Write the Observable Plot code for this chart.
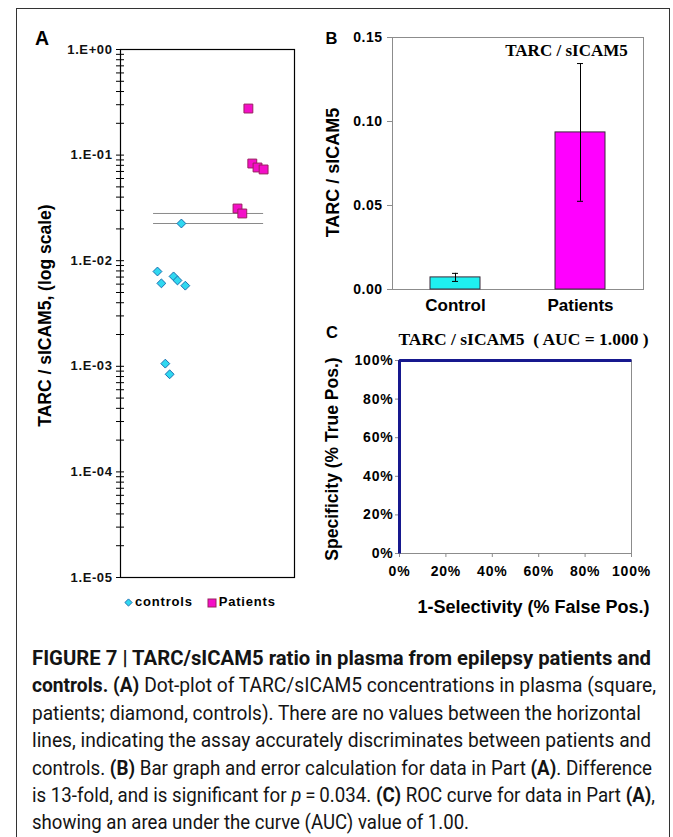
<!DOCTYPE html>
<html>
<head>
<meta charset="utf-8">
<script src="https://cdn.jsdelivr.net/npm/d3@7"></script>
<script src="https://cdn.jsdelivr.net/npm/@observablehq/plot@0.6"></script>
<style>
html, body { margin: 0; padding: 0; background: #fff; }
#fig { position: relative; width: 673px; height: 837px; overflow: hidden; background: #fff;
  font-family: "Liberation Sans", Arial, sans-serif; }
#border { position: absolute; left: 16px; top: 8px; width: 654px; height: 860px; border: 1px solid #333; box-sizing: border-box; }
.panel { position: absolute; }
.panel svg { background: transparent !important; }
#panelA g[aria-label="y-axis tick label"] { letter-spacing: 0.6px; }
#panelB g[aria-label="y-axis tick label"] { letter-spacing: 0.5px; }
#panelC g[aria-label="y-axis tick label"], #panelC g[aria-label="x-axis tick label"] { letter-spacing: 0.8px; }
.letter { position: absolute; font-weight: bold; line-height: 1; color: #000; }
#legendA { position: absolute; left: 124px; top: 593px; font-size: 13px; font-weight: bold; letter-spacing: 0.8px;
  white-space: nowrap; line-height: 18px; color: #000; }
#legendA svg { vertical-align: middle; margin-right: 2px; }
#caption { position: absolute; left: 32px; top: 645px; font-family: Roboto, "Liberation Sans", sans-serif;
  font-size: 20.5px; line-height: 27.4px; color: #141414; white-space: nowrap; }
#caption div { transform-origin: 0 0; width: max-content; }
#caption b { font-weight: 700; }
</style>
</head>
<body>
<div id="fig">
  <div id="border"></div>
  <div id="panelA" class="panel" style="left:20px;top:30px;"></div>
  <div id="panelB" class="panel" style="left:300px;top:20px;"></div>
  <div id="panelC" class="panel" style="left:300px;top:320px;"></div>
  <div class="letter" style="left:35px;top:28.5px;font-size:19.5px;">A</div>
  <div class="letter" style="left:325.5px;top:30px;font-size:16.5px;">B</div>
  <div class="letter" style="left:326px;top:324px;font-size:16.5px;">C</div>
  <div id="legendA"></div>
  <div id="caption">
    <div data-w="619"><b>FIGURE 7 | TARC/sICAM5 ratio in plasma from epilepsy patients and</b></div>
    <div data-w="624"><b>controls. (A)</b> Dot-plot of TARC/sICAM5 concentrations in plasma (square,</div>
    <div data-w="609">patients; diamond, controls). There are no values between the horizontal</div>
    <div data-w="619">lines, indicating the assay accurately discriminates between patients and</div>
    <div data-w="620">controls. <b>(B)</b> Bar graph and error calculation for data in Part <b>(A)</b>. Difference</div>
    <div data-w="623">is 13-fold, and is significant for <i>p</i>&#8201;=&#8201;0.034. <b>(C)</b> ROC curve for data in Part <b>(A)</b>,</div>
    <div data-w="437">showing an area under the curve (AUC) value of 1.00.</div>
  </div>
</div>
<script>
// ---------- DATA ----------
// Panel A: dot plot (log scale)
const controlsX = [0.85, 0.94, 1.03, 1.13, 1.22, 1.31, 1.40, 1.49];
const controlsY = [0.0079, 0.0061, 0.00106, 0.00084, 0.0071, 0.0065, 0.0225, 0.0058];
const patientsX = [2.69, 2.80, 2.94, 3.03, 3.15, 3.29];
const patientsY = [0.0312, 0.0280, 0.276, 0.0832, 0.0763, 0.0731];
const cutoffValues = [0.0280, 0.0225];
const cutoffSpan = [0.76, 3.29];
const logTicks = [1e-5, 1e-4, 1e-3, 1e-2, 1e-1, 1];
const legendLabels = ["controls", "Patients"];
const yLabelA = "TARC / sICAM5, (log scale)";

// Panel B: bar graph
const groups = ["Control", "Patients"];
const means = [0.0072, 0.0935];
const errors = [0.0024, 0.0410];
const barTicks = [0, 0.05, 0.10, 0.15];
const titleB = "TARC / sICAM5";
const yLabelB = "TARC / sICAM5";

// Panel C: ROC curve
const rocFalsePos = [0, 0, 1];
const rocTruePos = [0, 1, 1];
const pctTicks = [0, 0.2, 0.4, 0.6, 0.8, 1];
const titleC = "TARC / sICAM5  ( AUC = 1.000 )";
const xLabelC = "1-Selectivity (% False Pos.)";
const yLabelC = "Specificity (% True Pos.)";

// ---------- STYLE ----------
const SANS = "Liberation Sans, Arial, Helvetica, sans-serif";
const SERIF = "Liberation Serif, Times New Roman, serif";
const CYAN = "#2fd8f0", CYAN_STROKE = "#1a6fb0";
const MAG = "#f40fc8", MAG_STROKE = "#9a2060";

const sciFormat = d => {
  const e = Math.round(Math.log10(d));
  return "1.E" + (e < 0 ? "-" : "+") + String(Math.abs(e)).padStart(2, "0");
};

// ---------- PANEL A ----------
const plotA = Plot.plot({
  width: 290, height: 560,
  marginLeft: 100, marginRight: 16, marginTop: 19, marginBottom: 13,
  style: {fontFamily: SANS, background: "transparent", color: "#000"},
  x: {domain: [0, 4], axis: null},
  y: {type: "log", domain: [1e-5, 1]},
  marks: [
    Plot.frame({stroke: "#000", strokeWidth: 1.2}),
    Plot.axisY({ticks: 50, tickSize: 8, dx: 4, tickFormat: () => "", stroke: "#000", label: null}),
    Plot.axisY({ticks: logTicks, tickSize: 0, tickPadding: 8, tickFormat: sciFormat, fontSize: 13,
      fontWeight: "bold", fill: "#111", label: null}),
    Plot.ruleY(cutoffValues, {y: d => d, x1: cutoffSpan[0], x2: cutoffSpan[1], stroke: "#8a8a8a", strokeWidth: 1}),
    Plot.dot(controlsY, {x: controlsX, y: controlsY, symbol: "diamond2", r: 4, fill: CYAN, stroke: CYAN_STROKE, strokeWidth: 1}),
    Plot.dot(patientsY, {x: patientsX, y: patientsY, symbol: "square", r: 5, fill: MAG, stroke: MAG_STROKE, strokeWidth: 1}),
    Plot.text([yLabelA], {text: d => d, frameAnchor: "left", dx: -75, dy: 2, rotate: -90,
      textAnchor: "middle", lineAnchor: "middle", fontSize: 17.5, fontWeight: "bold", fill: "#000"})
  ]
});
document.getElementById("panelA").appendChild(plotA);

// legend A
document.getElementById("legendA").innerHTML =
  `<svg width="9" height="9" viewBox="-4.5 -4.5 9 9"><path d="M0,-3.6L3.6,0L0,3.6L-3.6,0Z" fill="${CYAN}" stroke="${CYAN_STROKE}" stroke-width="1"/></svg>${legendLabels[0]}` +
  `<span style="display:inline-block;width:14px"></span>` +
  `<svg width="10" height="10" viewBox="-5 -5 10 10"><rect x="-4" y="-4" width="8" height="8" fill="${MAG}" stroke="${MAG_STROKE}" stroke-width="1"/></svg>${legendLabels[1]}`;

// ---------- PANEL B ----------
const lower = means.map((m, i) => m - errors[i]);
const upper = means.map((m, i) => m + errors[i]);
const plotB = Plot.plot({
  width: 365, height: 300,
  marginLeft: 92, marginRight: 22, marginTop: 17, marginBottom: 31,
  style: {fontFamily: SANS, background: "transparent", color: "#000"},
  x: {domain: groups, paddingInner: 0.6, paddingOuter: 0.3},
  y: {domain: [0, 0.15]},
  color: {domain: groups, range: ["#1ff0f0", "#ff00ff"]},
  marks: [
    Plot.frame({stroke: "#8c8c8c"}),
    Plot.barY(groups, {x: groups, y: means, fill: groups, stroke: "#3a2a3a", strokeWidth: 1}),
    Plot.ruleX(groups, {x: groups, y1: lower, y2: upper, stroke: "#000", strokeWidth: 1}),
    Plot.tickY(groups, {x: groups, y: upper, stroke: "#000", insetLeft: 22, insetRight: 22}),
    Plot.tickY(groups, {x: groups, y: lower, stroke: "#000", insetLeft: 22, insetRight: 22}),
    Plot.axisY({ticks: barTicks, tickFormat: d3.format(".2f"), tickSize: 5, tickPadding: 5,
      stroke: "#8c8c8c", fill: "#000", fontSize: 14, fontWeight: "bold", label: null}),
    Plot.axisX({tickSize: 0, tickPadding: 9, fontSize: 17, fontWeight: "bold", fill: "#000", label: null}),
    Plot.text([yLabelB], {text: d => d, frameAnchor: "left", dx: -59, dy: 9, rotate: -90,
      textAnchor: "middle", lineAnchor: "middle", fontSize: 18, fontWeight: "bold", fill: "#000"}),
    Plot.text([titleB], {text: d => d, frameAnchor: "top-right", dx: -77, dy: 13.5,
      textAnchor: "middle", lineAnchor: "middle",
      fontFamily: SERIF, fontWeight: "bold", fontSize: 17, fill: "#000"})
  ]
});
document.getElementById("panelB").appendChild(plotB);

// ---------- PANEL C ----------
const plotC = Plot.plot({
  width: 365, height: 300,
  marginLeft: 99, marginRight: 34, marginTop: 40, marginBottom: 67,
  style: {fontFamily: SANS, background: "transparent", color: "#000"},
  x: {domain: [0, 1]},
  y: {domain: [0, 1]},
  marks: [
    Plot.frame({stroke: "#8c8c8c"}),
    Plot.axisY({ticks: pctTicks, tickFormat: d3.format(".0%"), tickSize: 4, tickPadding: 2,
      stroke: "#8c8c8c", fill: "#000", fontSize: 14, fontWeight: "bold", label: null}),
    Plot.axisX({ticks: pctTicks, tickFormat: d3.format(".0%"), tickSize: 4, tickPadding: 9,
      stroke: "#8c8c8c", fill: "#000", fontSize: 14, fontWeight: "bold", label: null}),
    Plot.line(rocFalsePos, {x: rocFalsePos, y: rocTruePos, stroke: "#16188e", strokeWidth: 3,
      strokeLinejoin: "miter", strokeLinecap: "butt"}),
    Plot.text([xLabelC], {text: d => d, frameAnchor: "bottom", dx: 18, dy: 54,
      textAnchor: "middle", lineAnchor: "middle", fontSize: 18, fontWeight: "bold", fill: "#000"}),
    Plot.text([yLabelC], {text: d => d, frameAnchor: "left", dx: -67, dy: 2, rotate: -90,
      textAnchor: "middle", lineAnchor: "middle", fontSize: 17.5, fontWeight: "bold", fill: "#000"}),
    Plot.text([titleC], {text: d => d.replace(/  /g, " \u00a0"), frameAnchor: "top", dx: 8, dy: -21,
      textAnchor: "middle", lineAnchor: "middle",
      fontFamily: SERIF, fontWeight: "bold", fontSize: 17.5, fill: "#000"})
  ]
});
document.getElementById("panelC").appendChild(plotC);

// ---------- caption width fitting ----------
document.querySelectorAll("#caption div").forEach(el => {
  const target = +el.dataset.w;
  const w = el.getBoundingClientRect().width;
  if (w > 0) el.style.transform = `scaleX(${target / w})`;
});
</script>
</body>
</html>
